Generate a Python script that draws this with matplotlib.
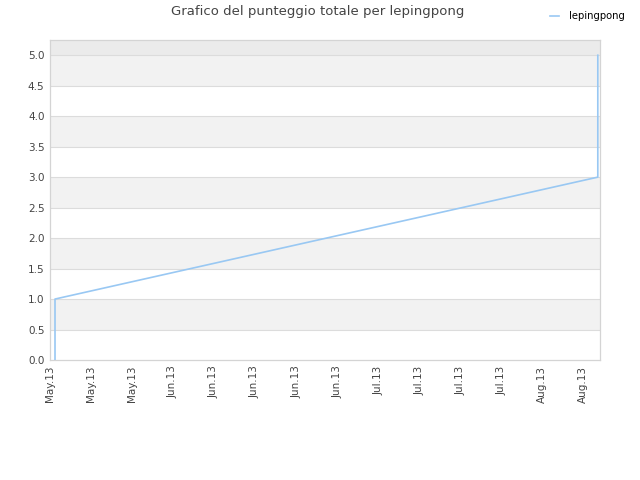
import matplotlib
matplotlib.use("Agg")
import matplotlib.pyplot as plt
import matplotlib.dates as mdates
import pandas as pd

# cumulative score over time
dates = pd.to_datetime(["2013-05-11 20:30", "2013-05-11 20:30",
                        "2013-08-12 12:00", "2013-08-12 12:00"])
scores = [0, 1, 3, 5]

tick_dates = pd.date_range("2013-05-11", "2013-08-10", freq="7D")
x_start = pd.Timestamp("2013-05-11 00:00")
x_end = pd.Timestamp("2013-08-12 21:00")

fig = plt.figure(figsize=(6.4, 4.8), dpi=100)
ax = fig.add_axes([50 / 640, 120 / 480, 550 / 640, 320 / 480])

# alternating bands
y_top = 5.25
for lo in [0.5, 1.5, 2.5, 3.5, 4.5]:
    ax.axhspan(lo, lo + 0.5, color="#f2f2f2", zorder=0, lw=0)
ax.axhspan(5.0, y_top, color="#ebebeb", zorder=0, lw=0)
for y in [0.5 * i for i in range(1, 11)]:
    ax.axhline(y, color="#dcdcdc", lw=0.8, zorder=1)

ax.plot(dates, scores, color="#99c8f3", lw=1.2, zorder=3, label="lepingpong")

ax.set_xlim(x_start, x_end)
ax.set_ylim(0, y_top)
ax.set_yticks([0.5 * i for i in range(11)])
ax.set_yticklabels([f"{0.5 * i:.1f}" for i in range(11)])
ax.set_xticks(tick_dates)
ax.xaxis.set_major_formatter(mdates.DateFormatter("%b.%y"))
plt.setp(ax.get_xticklabels(), rotation=90)
ax.tick_params(length=0, labelsize=7.5, colors="#444444", pad=4)

for s in ax.spines.values():
    s.set_color("#d4d4d4")
    s.set_linewidth(0.9)

fig.text(318 / 640, 1 - 12 / 480, "Grafico del punteggio totale per lepingpong",
         ha="center", va="center", fontsize=9.5, color="#444444")
fig.legend(loc="upper right", bbox_to_anchor=(0.99, 0.995), frameon=False,
           fontsize=7.2, handlelength=0.9, handletextpad=1.0)

fig.savefig("out.png", dpi=100)
